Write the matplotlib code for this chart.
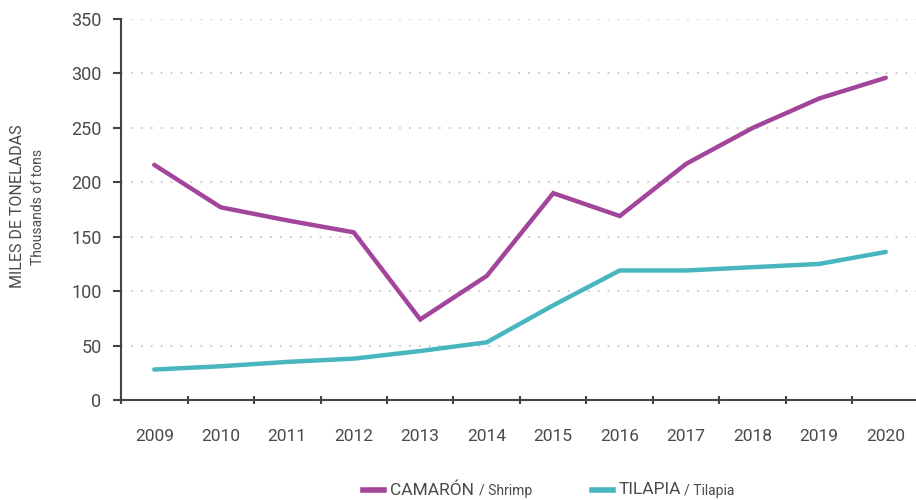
import matplotlib
matplotlib.use('Agg')
import matplotlib.pyplot as plt
from matplotlib.lines import Line2D
import numpy as np

plt.rcParams['font.family'] = ['Roboto', 'DejaVu Sans']

years = ['2009', '2010', '2011', '2012', '2013', '2014',
         '2015', '2016', '2017', '2018', '2019', '2020']
# thousands of tons
shrimp = [216, 177, 165, 154, 74, 114, 190, 169, 217, 250, 277, 296]
tilapia = [28, 31, 35, 38, 45, 53, 87, 119, 119, 122, 125, 136]
yticks = [0, 50, 100, 150, 200, 250, 300, 350]

purple = '#a2459b'
teal = '#48b6bf'
txt = '#4a4a4a'

fig = plt.figure(figsize=(9.16, 5), dpi=100)
ax = fig.add_axes([121/916, 100/500, 798/916, 381/500])

x = np.arange(len(years))
ax.plot(x, shrimp, color=purple, lw=3.2, solid_capstyle='round', solid_joinstyle='miter', zorder=3)
ax.plot(x, tilapia, color=teal, lw=3.2, solid_capstyle='round', solid_joinstyle='miter', zorder=3)

ax.set_xlim(-0.5, 11.5)
ax.set_ylim(0, 350)
ax.set_yticks(yticks)
ax.set_yticklabels([str(v) for v in yticks], fontsize=13, color=txt)

# ticks sit on the boundaries between years, labels under each year
ax.set_xticks(np.arange(-0.5, 11.5, 1.0))
ax.set_xticklabels([])
ax.set_xticks(x, minor=True)
ax.set_xticklabels(years, minor=True, fontsize=12.5, color=txt)
ax.tick_params(axis='x', which='minor', length=0, pad=21)
ax.tick_params(axis='x', which='major', length=6, width=1.5, color='#444444', direction='inout')
ax.tick_params(axis='y', length=6, width=1.5, color='#444444', pad=8)

ax.grid(axis='y', linestyle=(0, (1, 4.5)), color='#c8c8c8', lw=1.3)
ax.set_axisbelow(True)
for s in ['top', 'right']:
    ax.spines[s].set_visible(False)
for s in ['left', 'bottom']:
    ax.spines[s].set_color('#444444')
    ax.spines[s].set_linewidth(1.5)

fig.text(0.019, 0.587, 'MILES DE TONELADAS', rotation=90, fontsize=11.5,
         color=txt, ha='center', va='center')
fig.text(0.042, 0.587, 'Thousands of tons', rotation=90, fontsize=10,
         color=txt, ha='center', va='center')

# legend below the plot
fig.add_artist(Line2D([363/916, 384/916], [1 - 490/500] * 2, color=purple, lw=4))
fig.text(390/916, 1 - 490/500, 'CAMARÓN', fontsize=12.5, color=txt, va='center')
fig.text(479/916, 1 - 491/500, '/ Shrimp', fontsize=10, color=txt, va='center')
fig.add_artist(Line2D([592/916, 613/916], [1 - 490/500] * 2, color=teal, lw=4))
fig.text(619/916, 1 - 490/500, 'TILAPIA', fontsize=12.5, color=txt, va='center')
fig.text(684/916, 1 - 491/500, '/ Tilapia', fontsize=10, color=txt, va='center')

fig.savefig('out.png', dpi=100)
